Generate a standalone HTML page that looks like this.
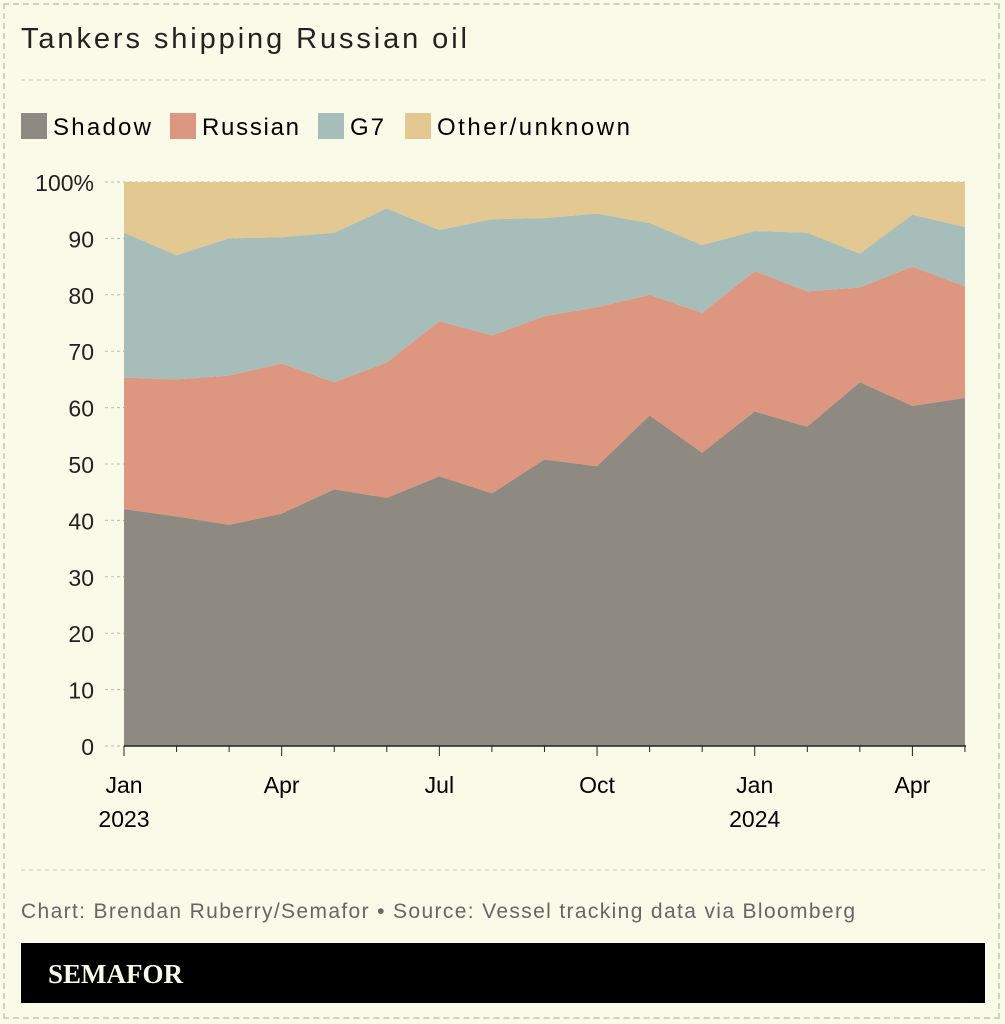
<!DOCTYPE html>
<html><head><meta charset="utf-8"><style>
html,body{margin:0;padding:0;background:#fafae8;}
body{width:1005px;height:1024px;position:relative;overflow:hidden;font-family:"Liberation Sans",sans-serif;color:#222;}
.frame{position:absolute;left:3px;top:3px;width:997px;height:1016px;border:2px dashed #d0d0c4;box-sizing:border-box;}
</style></head><body>
<div class="frame"></div>
<svg id="s" width="1005" height="1024" style="position:absolute;left:0;top:0">
<text x="21" y="48" font-size="29" fill="#222" textLength="446">Tankers shipping Russian oil</text>
<line x1="21" y1="80" x2="985" y2="80" stroke="#c8c8bc" stroke-dasharray="4,4"/>
<rect x="21" y="113" width="26" height="26" fill="#8e8a82"/><text x="53" y="135" font-size="24" textLength="98">Shadow</text>
<rect x="170" y="113" width="26" height="26" fill="#dd9680"/><text x="202" y="135" font-size="24" textLength="97">Russian</text>
<rect x="318" y="113" width="26" height="26" fill="#a6bdb9"/><text x="350" y="135" font-size="24" textLength="34">G7</text>
<rect x="405" y="113" width="26" height="26" fill="#e3c891"/><text x="437" y="135" font-size="24" textLength="193">Other/unknown</text>
<g id="chart"></g>
<line x1="21" y1="870" x2="985" y2="870" stroke="#c8c8bc" stroke-dasharray="4,4"/>
<text x="21" y="918" font-size="21" fill="#666" textLength="834">Chart: Brendan Ruberry/Semafor • Source: Vessel tracking data via Bloomberg</text>
<rect x="21" y="943" width="964" height="60" fill="#000"/>
<text x="48" y="983" font-size="27" font-weight="bold" fill="#fafae8" font-family="Liberation Serif,serif">SEMAFOR</text>
</svg>
<script>
var sh=[42,40.7,39.2,41.2,45.5,44,47.8,44.8,50.8,49.6,58.6,52,59.3,56.6,64.5,60.3,61.7];
var ru=[65.3,65,65.7,67.8,64.5,68,75.3,72.8,76.2,77.8,80,76.8,84.2,80.6,81.3,85,81.5];
var g7=[91,87,90,90.2,91,95.3,91.5,93.4,93.6,94.4,92.7,88.8,91.3,91,87.3,94.2,92];
function X(i){return 124+i*52.56;}function Y(v){return 746-v*5.64;}
function area(top,bot,c){var d="M";for(var i=0;i<17;i++)d+=X(i)+","+Y(top[i])+" L";for(var i=16;i>=0;i--)d+=X(i)+","+Y(bot[i])+(i?" L":"Z");return '<path d="'+d+'" fill="'+c+'"/>';}
var z=[],h=[];for(var i=0;i<17;i++){z.push(0);h.push(100);}
var o="";
for(var v=0;v<=100;v+=10){var y=Y(v);o+='<line x1="105" x2="965" y1="'+y+'" y2="'+y+'" stroke="#bbb" stroke-dasharray="3,3"/>';o+='<text x="94" y="'+(y+9)+'" font-size="23" text-anchor="end" fill="#222">'+v+(v==100?'%':'')+'</text>';}
o+=area(h,g7,"#e3c891")+area(g7,ru,"#a6bdb9")+area(ru,sh,"#dd9680")+area(sh,z,"#8e8a82");
o+='<line x1="124" x2="966" y1="746" y2="746" stroke="#222" stroke-width="1.5"/>';
var lb=[[0,"Jan","2023"],[3,"Apr",""],[6,"Jul",""],[9,"Oct",""],[12,"Jan","2024"],[15,"Apr",""]];
for(var i=0;i<17;i++){o+='<line x1="'+X(i)+'" x2="'+X(i)+'" y1="746" y2="'+(i%3==0?756:752)+'" stroke="#222"/>';}
lb.forEach(function(l){var x=X(l[0]);o+='<text x="'+x+'" y="793" font-size="23" text-anchor="middle">'+l[1]+'</text>';if(l[2])o+='<text x="'+x+'" y="827" font-size="23" text-anchor="middle">'+l[2]+'</text>';});
document.getElementById("chart").innerHTML=o;
</script>
</body></html>
